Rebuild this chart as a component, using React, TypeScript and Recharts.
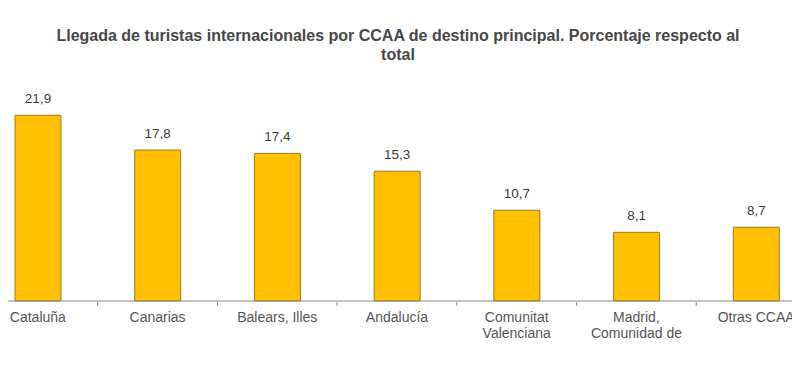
import { BarChart, Bar, XAxis, YAxis, LabelList } from "recharts";

const regions = [
  "Cataluña",
  "Canarias",
  "Balears, Illes",
  "Andalucía",
  "Comunitat Valenciana",
  "Madrid, Comunidad de",
  "Otras CCAA",
];
const shares = [21.9, 17.8, 17.4, 15.3, 10.7, 8.1, 8.7];
const titleLines = [
  "Llegada de turistas internacionales por CCAA de destino principal. Porcentaje respecto al",
  "total",
];

const data = regions.map((region, i) => ({ region, share: shares[i] }));

const fmt = (v: any) => String(v).replace(".", ",");

// wraps long names on two lines like the original export
function wrap(label: string): string[] {
  if (label.length <= 15) return [label];
  const words = label.split(" ");
  return [words[0], words.slice(1).join(" ")];
}

function CategoryTick(props: any) {
  const { x, y, payload } = props;
  const half = payload && payload.offset ? payload.offset : 60;
  const lines = wrap(String(payload.value));
  return (
    <g>
      <line x1={x + half} x2={x + half} y1={y + 1} y2={y + 5} stroke="#888" strokeWidth={1} />
      <text x={x} y={y + 21} textAnchor="middle" fill="#555" fontSize={14} fontFamily="'Liberation Sans', Arial, sans-serif">
        {lines.map((l, i) => (
          <tspan key={i} x={x} dy={i === 0 ? 0 : 16}>{l}</tspan>
        ))}
      </text>
    </g>
  );
}

export default function App() {
  return (
    <div style={{ position: "relative", width: 800, height: 365, margin: -8, overflow: "hidden", background: "#fff" }}>
      <div
        style={{
          position: "absolute",
          left: -2,
          top: 26,
          width: 800,
          textAlign: "center",
          fontFamily: "'Liberation Sans', Arial, sans-serif",
          fontWeight: "bold",
          fontSize: 16,
          lineHeight: "19px",
          color: "#474747",
        }}
      >
        {titleLines.map((t, i) => (
          <div key={i} style={{ whiteSpace: "nowrap" }}>{t}</div>
        ))}
      </div>
      <div style={{ position: "absolute", left: -22, top: 0 }}>
        <BarChart width={838} height={365} data={data} margin={{ top: 89, right: 0, bottom: 14, left: 0 }}>
          <XAxis
            dataKey="region"
            interval={0}
            height={50}
            tickSize={0}
            tickMargin={0}
            tick={<CategoryTick />}
            axisLine={{ stroke: "#888", strokeWidth: 1 }}
            tickLine={false}
          />
          <YAxis hide domain={[0, 25]} />
          <Bar dataKey="share" barSize={46} fill="#FFC000" stroke="#9A7A20" strokeWidth={1} isAnimationActive={false}>
            <LabelList
              dataKey="share"
              position="top"
              offset={12}
              formatter={fmt}
              fill="#3a3a3a"
              fontSize={13.5}
              fontFamily="'Liberation Sans', Arial, sans-serif"
            />
          </Bar>
        </BarChart>
      </div>
    </div>
  );
}
